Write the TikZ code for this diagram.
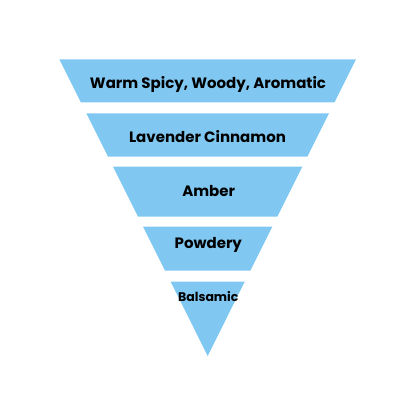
\documentclass[tikz,border=0pt]{standalone}
\usepackage{fontspec}
\setmainfont{Poppins}
\definecolor{funnel}{RGB}{128,200,242}
\newcommand{\slicefill}[2]{%
  \fill[funnel] ({207.7-0.5*(356-#1)},#1) -- ({207.7+0.5*(356-#1)},#1)
    -- ({207.7+0.5*(356-#2)},#2) -- ({207.7-0.5*(356-#2)},#2) -- cycle;}
\tikzset{lbl/.style={anchor=base, inner sep=0pt, font=\bfseries\fontsize{15}{18}\selectfont, text=black}}
\begin{document}
\begin{tikzpicture}[x=1pt,y=-1pt]
\useasboundingbox (0,0) rectangle (416,416);
\slicefill{59.3}{102.3}
\slicefill{113.3}{156.7}
\slicefill{166.7}{216.7}
\slicefill{226.7}{270.7}
\fill[funnel] (170.7,281.7) -- (244.7,281.7) -- (207.7,356) -- cycle;
\node[lbl] (t1) at (208,88.3) {Warm Spicy, Woody, Aromatic};
\node[lbl] (t2) at (207.5,142.7) {Lavender Cinnamon};
\node[lbl] (t3) at (208.7,196) {Amber};
\node[lbl] (t4) at (208.3,248.3) {Powdery};
\node[lbl, font=\bfseries\fontsize{12.5}{15}\selectfont] (t5) at (208.3,301.7) {Balsamic};
\end{tikzpicture}
\end{document}
